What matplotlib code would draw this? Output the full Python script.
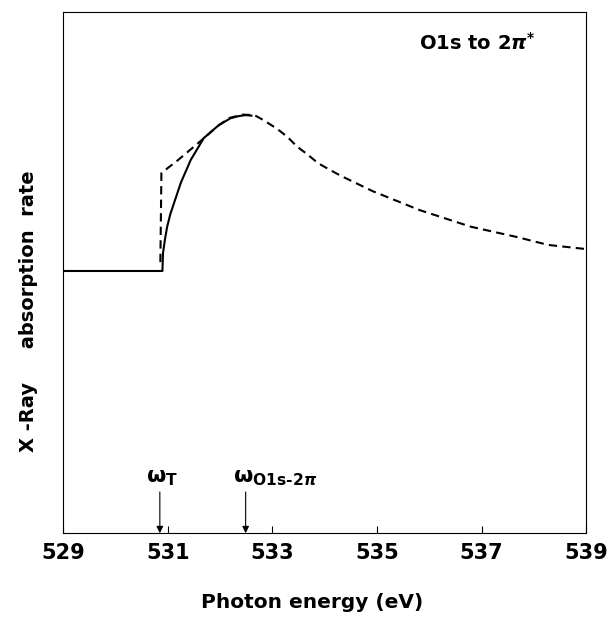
import matplotlib
matplotlib.use("Agg")
import matplotlib.pyplot as plt

plt.rcParams['font.family'] = ['DejaVu Sans']
plt.rcParams['font.weight'] = 'bold'
plt.rcParams['mathtext.fontset'] = 'custom'
plt.rcParams['mathtext.rm'] = 'DejaVu Sans:bold'
plt.rcParams['mathtext.it'] = 'DejaVu Sans:italic:bold'
plt.rcParams['mathtext.bf'] = 'DejaVu Sans:bold'

# Solid curve (threshold step and rise to the resonance peak)
solid_x = [529.0, 530.90, 530.90, 530.91, 530.95, 530.99, 531.05, 531.12, 531.25,
           531.44, 531.69, 531.85, 531.98, 532.20, 532.35, 532.49, 532.6]
solid_y = [0.503, 0.503, 0.505, 0.537, 0.565, 0.588, 0.612, 0.633, 0.672,
           0.716, 0.758, 0.772, 0.783, 0.796, 0.800, 0.802, 0.801]

# Dashed curve
dashed_x = [530.86, 530.88, 531.20, 531.66, 531.98, 532.19, 532.44, 532.66, 532.82,
            533.01, 533.14, 533.29, 533.48, 533.68, 533.87, 534.10, 534.32, 534.57,
            534.92, 535.81, 536.79, 537.68, 538.27, 539.0]
dashed_y = [0.52, 0.691, 0.716, 0.755, 0.783, 0.797, 0.803, 0.802, 0.793,
            0.781, 0.772, 0.760, 0.741, 0.726, 0.710, 0.697, 0.685, 0.673,
            0.656, 0.620, 0.588, 0.568, 0.553, 0.545]

# Marked energies
omega_T = 530.85
omega_res = 532.49

xticks = [529, 531, 533, 535, 537, 539]

fig = plt.figure(figsize=(6.12, 6.28), dpi=100)
ax = fig.add_axes([0.103, 0.151, 0.855, 0.830])

ax.plot(solid_x, solid_y, color='black', lw=1.5)
ax.plot(dashed_x, dashed_y, color='black', lw=1.5, linestyle=(0, (4, 2.5)))

ax.set_xlim(529, 539)
ax.set_ylim(0, 1)
ax.set_yticks([])
ax.set_xticks(xticks)
ax.set_xticklabels([str(t) for t in xticks], fontsize=15, fontweight='bold')
ax.tick_params(axis='x', direction='in', length=5, width=0.8, pad=7)
for s in ax.spines.values():
    s.set_linewidth(0.8)

# arrows marking threshold and resonance
for xv in [omega_T, omega_res]:
    ax.annotate('', xy=(xv, 0.0), xytext=(xv, 0.079),
                arrowprops=dict(arrowstyle='-|>', color='black', lw=0.8,
                                mutation_scale=10, shrinkA=0, shrinkB=0))
ax.text(530.58, 0.106, r'$\mathrm{\omega}_{\mathrm{T}}$', fontsize=16, va='center', ha='left')
ax.text(532.24, 0.106, r'$\mathrm{\omega}_{\mathrm{O1s\text{-}2}\pi}$', fontsize=16,
        va='center', ha='left')

ax.text(0.68, 0.94, r'O1s to 2$\pi^{*}$', transform=ax.transAxes, fontsize=14,
        fontweight='bold', va='center', ha='left')

fig.text(0.047, 0.505, 'X -Ray     absorption  rate', rotation=90, fontsize=14,
         fontweight='bold', va='center', ha='center')
fig.text(0.51, 0.04, 'Photon energy (eV)', fontsize=14.5, fontweight='bold',
         va='center', ha='center')

fig.savefig('out.png', dpi=100)
